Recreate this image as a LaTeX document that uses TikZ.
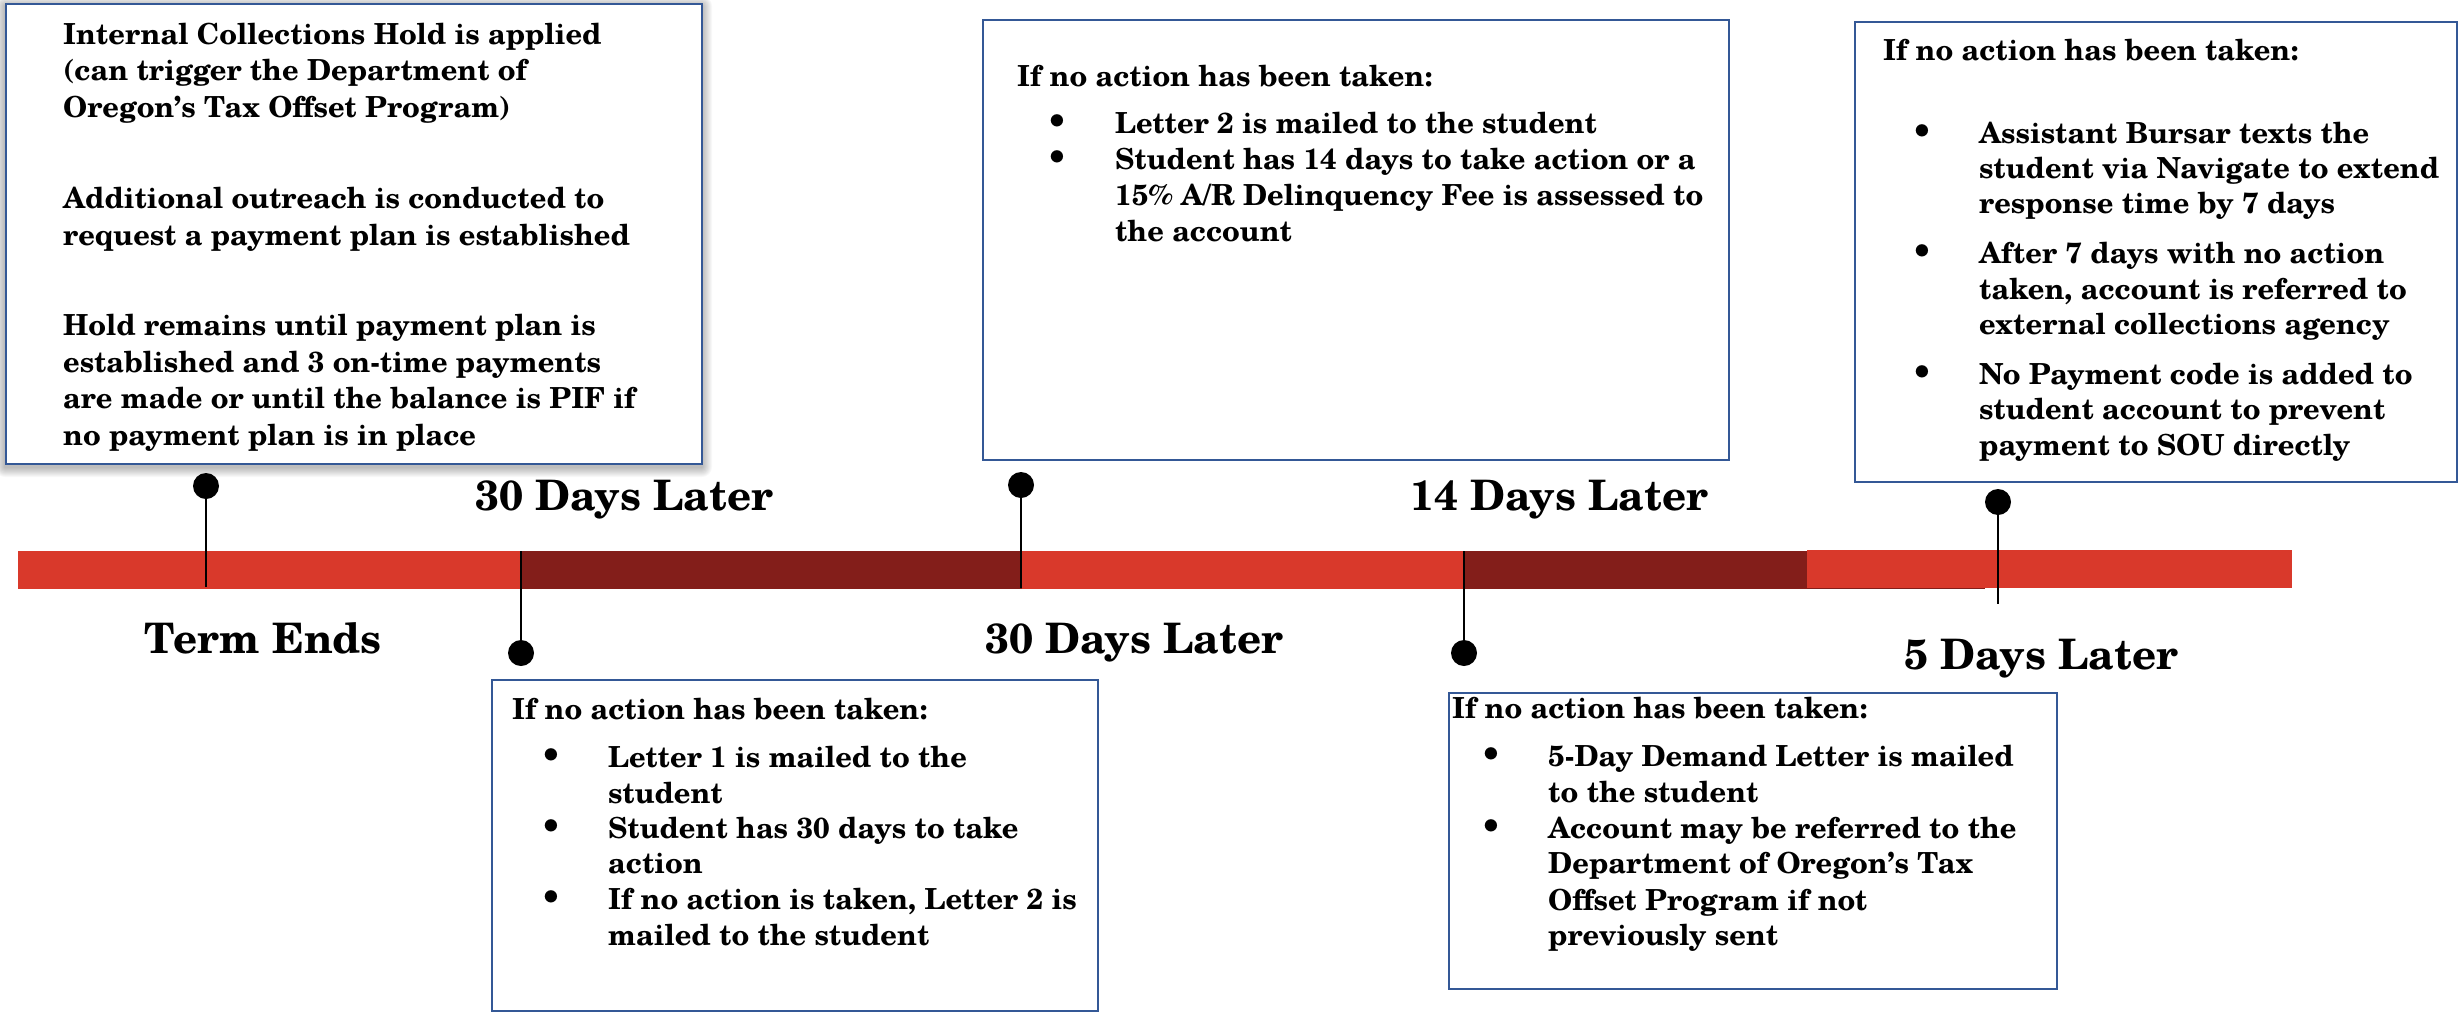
\documentclass[tikz,border=0pt]{standalone}
\usepackage{fontspec}
\setmainfont{TeX Gyre Schola}
\usetikzlibrary{calc}
\definecolor{barred}{RGB}{217,57,43}
\definecolor{bardark}{RGB}{131,30,26}
\definecolor{boxblue}{RGB}{52,88,150}
\begin{document}
\begin{tikzpicture}[x=1pt,y=-1pt,
  txt/.style={anchor=base west, inner sep=0pt, font=\fontsize{29}{35}\selectfont\bfseries},
  bul/.style={anchor=base, inner sep=0pt, font=\fontsize{36}{35}\selectfont\bfseries},
  lbl/.style={anchor=base west, inner sep=0pt, font=\fontsize{42}{50}\selectfont\bfseries},
  card/.style={draw=boxblue, line width=2pt, fill=white, inner sep=0pt, anchor=north west},
  pin/.style={circle, fill=black, inner sep=0pt, minimum size=26pt},
  stem/.style={line width=2.5pt, black}]
\useasboundingbox (0,0) rectangle (2459,1012);
\fill[white] (0,0) rectangle (2459,1012);

% ---- shadow of first box
\foreach \i in {1,...,10}{
  \fill[black,opacity=0.028,rounded corners=\i pt] ({5-\i},{6-\i}) rectangle ({702+\i},{467+\i});
}

% ---- boxes
\node[card, minimum width=696pt, minimum height=460pt] (b1) at (5,3) {};
\node[card, minimum width=746pt, minimum height=440pt] (b2) at (982,19) {};
\node[card, minimum width=602pt, minimum height=460pt] (b3) at (1854,21) {};
\node[card, minimum width=606pt, minimum height=331pt] (b4) at (491,679) {};
\node[card, minimum width=608pt, minimum height=296pt] (b5) at (1448,692) {};

% ---- timeline bar
\fill[barred]  (18,551) rectangle (521,589);
\fill[bardark] (521,551) rectangle (1022,589);
\fill[barred]  (1022,551) rectangle (1464,589);
\fill[bardark] (1464,551) rectangle (1985,589);
\fill[barred]  (1807,550) rectangle (2292,588);

% ---- pins
\node[pin] (p1) at (206,486) {};
\node[pin] (p2) at (521,653) {};
\node[pin] (p3) at (1021,485) {};
\node[pin] (p4) at (1464,653) {};
\node[pin] (p5) at (1998,502) {};
\coordinate (q1) at (206,587);
\coordinate (q2) at (521,551);
\coordinate (q3) at (1021,588);
\coordinate (q4) at (1464,551);
\coordinate (q5) at (1998,604);
\draw[stem] (p1.center) -- (q1);
\draw[stem] (p2.center) -- (q2);
\draw[stem] (p3.center) -- (q3);
\draw[stem] (p4.center) -- (q4);
\draw[stem] (p5.center) -- (q5);

% ---- labels
\node[lbl] (lterm) at (144,653) {Term Ends};
\node[lbl] (l30a) at (475,510) {30 Days Later};
\node[lbl] (l30b) at (985,653) {30 Days Later};
\node[lbl] (l14) at (1410,510) {14 Days Later};
\node[lbl] (l5) at (1904,669) {5 Days Later};

% ---- box 1 text
\node[txt] (a1) at (63,44) {Internal Collections Hold is applied};
\node[txt] (a2) at (63,80) {(can trigger the Department of};
\node[txt] (a3) at (63,117) {Oregon’s Tax Offset Program)};
\node[txt] (a4) at (63,208) {Additional outreach is conducted to};
\node[txt] (a5) at (63,245) {request a payment plan is established};
\node[txt] (a6) at (63,335) {Hold remains until payment plan is};
\node[txt] (a7) at (63,372) {established and 3 on-time payments};
\node[txt] (a8) at (63,408) {are made or until the balance is PIF if};
\node[txt] (a9) at (63,445) {no payment plan is in place};

% ---- box 2 text
\node[txt] (c0) at (1017,86) {If no action has been taken:};
\node[bul] (cb1) at (1057,133) {\textbullet};
\node[bul] (cb2) at (1057,169) {\textbullet};
\node[txt] (c1) at (1115,133) {Letter 2 is mailed to the student};
\node[txt] (c2) at (1115,169) {Student has 14 days to take action or a};
\node[txt] (c3) at (1115,205) {15\% A/R Delinquency Fee is assessed to};
\node[txt] (c4) at (1115,241) {the account};

% ---- box 3 text
\node[txt] (d0) at (1883,60) {If no action has been taken:};
\node[bul] (db1) at (1922,143) {\textbullet};
\node[bul] (db2) at (1922,263) {\textbullet};
\node[bul] (db3) at (1922,384) {\textbullet};
\node[txt] (d1) at (1979,143) {Assistant Bursar texts the};
\node[txt] (d2) at (1979,178) {student via Navigate to extend};
\node[txt] (d3) at (1979,213) {response time by 7 days};
\node[txt] (d4) at (1979,263) {After 7 days with no action};
\node[txt] (d5) at (1979,299) {taken, account is referred to};
\node[txt] (d6) at (1979,334) {external collections agency};
\node[txt] (d7) at (1979,384) {No Payment code is added to};
\node[txt] (d8) at (1979,419) {student account to prevent};
\node[txt] (d9) at (1979,455) {payment to SOU directly};

% ---- box 4 text
\node[txt] (e0) at (512,719) {If no action has been taken:};
\node[bul] (eb1) at (551,767) {\textbullet};
\node[bul] (eb2) at (551,838) {\textbullet};
\node[bul] (eb3) at (551,909) {\textbullet};
\node[txt] (e1) at (608,767) {Letter 1 is mailed to the};
\node[txt] (e2) at (608,803) {student};
\node[txt] (e3) at (608,838) {Student has 30 days to take};
\node[txt] (e4) at (608,873) {action};
\node[txt] (e5) at (608,909) {If no action is taken, Letter 2 is};
\node[txt] (e6) at (608,945) {mailed to the student};

% ---- box 5 text
\node[txt] (f0) at (1452,718) {If no action has been taken:};
\node[bul] (fb1) at (1491,766) {\textbullet};
\node[bul] (fb2) at (1491,838) {\textbullet};
\node[txt] (f1) at (1548,766) {5-Day Demand Letter is mailed};
\node[txt] (f2) at (1548,802) {to the student};
\node[txt] (f3) at (1548,838) {Account may be referred to the};
\node[txt] (f4) at (1548,873) {Department of Oregon’s Tax};
\node[txt] (f5) at (1548,910) {Offset Program if not};
\node[txt] (f6) at (1548,945) {previously sent};
\end{tikzpicture}
\end{document}
